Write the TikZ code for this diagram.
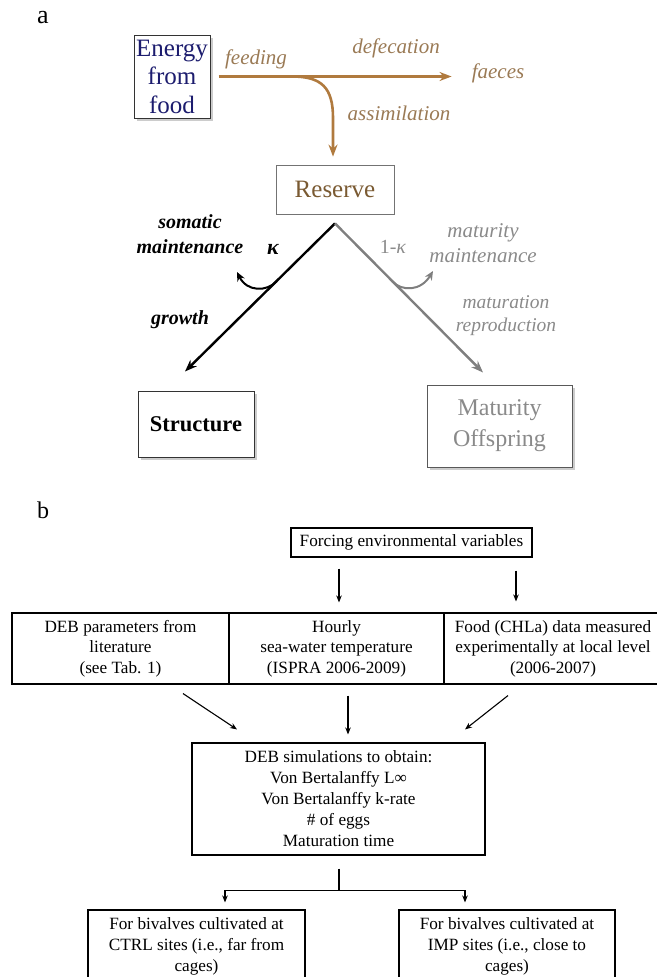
\documentclass[tikz,border=0pt]{standalone}
\usepackage{fontspec}
\setmainfont{Liberation Serif}
\usetikzlibrary{arrows.meta,shadows}
\definecolor{navy}{HTML}{1C1C6E}
\definecolor{brline}{HTML}{B07A3E}
\definecolor{brtext}{HTML}{9A7A55}
\definecolor{restext}{HTML}{7A5A32}
\definecolor{grline}{HTML}{7F7F7F}
\definecolor{grtext}{HTML}{8A8A8A}
\newcommand{\fs}[2]{\fontsize{#1}{#2}\selectfont}
\begin{document}
\begin{tikzpicture}[x=1pt,y=-1pt,
  abox/.style={draw=black!80, line width=1pt, inner sep=0pt, align=center, fill=white,
    drop shadow={shadow xshift=2.5pt, shadow yshift=-2.5pt, fill=black!40}},
  lbl/.style={font=\itshape\fs{21}{25}, text=brtext, inner sep=1pt, align=center},
  glbl/.style={font=\itshape\fs{21}{25}, text=grtext, inner sep=1pt, align=center},
  klbl/.style={font=\bfseries\itshape\fs{20}{25}, text=black, inner sep=1pt, align=center},
  brarrow/.style={draw=brline, line width=2.6pt, -{Stealth[length=12pt,width=9pt]}},
  blkarrow/.style={draw=black, line width=2.4pt, -{Stealth[length=12pt,width=9pt]}},
  gryarrow/.style={draw=grline, line width=2.4pt, -{Stealth[length=12pt,width=9pt]}},
  blkhook/.style={draw=black, line width=2pt, -{Stealth[length=9pt,width=8pt]}},
  gryhook/.style={draw=grline, line width=2pt, -{Stealth[length=9pt,width=8pt]}},
  bbox/.style={draw=black, line width=1.1pt, inner sep=0pt, align=center, font=\fs{17.2}{20.5}},
  barrow/.style={draw=black, line width=1.1pt, -{Stealth[length=7pt,width=5.5pt]}},
  bline/.style={draw=black, line width=1.1pt}
]
\useasboundingbox (0,0) rectangle (656,977);

% ---------- part a ----------
\node[font=\fs{26}{26}, inner sep=0pt] (la) at (43,18) {a};

\node[abox, text=navy, font=\fs{25}{28.5}, minimum width=76pt, minimum height=83pt] (energy) at (172,76.5) {Energy\\from\\food};

\node[lbl] (feeding) at (256,59) {feeding};
\node[lbl] (defec) at (396,48) {defecation};
\node[lbl] (faeces) at (498,73) {faeces};
\node[lbl] (assim) at (399,113) {assimilation};

\node[draw=black!55, line width=0.8pt, minimum width=118pt, minimum height=49pt, inner sep=0pt, text=restext, font=\fs{25}{25}] (reserve) at (335,189.5) {Reserve};

\coordinate (split) at (292,76.5);
\draw[brarrow, shorten <=8pt, shorten >=19pt] (energy.east) -- (energy.east -| faeces.west);
\draw[brarrow, shorten >=8pt] (split) .. controls (322,76.5) and (333,88) .. (333,118) -- (reserve.north -| 333,0);

\node[abox, font=\bfseries\fs{22.5}{22.5}, minimum width=116pt, minimum height=66pt] (structure) at (196,424) {Structure};
\node[abox, draw=black!65, text=grtext, font=\fs{24}{31}, minimum width=145pt, minimum height=82pt] (maturity) at (499.5,426) {Maturity\\Offspring};

\coordinate (vtx) at ([yshift=-9pt]reserve.south);
\draw[blkarrow] (vtx) -- ([shift={(-11,-19)}]structure.north);
\draw[gryarrow] (vtx) -- ([shift={(-16.5,-12)}]maturity.north);

\coordinate (kb) at (277,281);
\coordinate (mb) at (392,281);
\draw[blkhook] (kb) .. controls (267,292) and (247,292) .. (237,272);
\draw[gryhook] (mb) .. controls (402,292) and (421,291) .. (433,271);

\node[klbl] (somatic) at (190,234.5) {somatic\\maintenance};
\node[klbl] (growth) at (180,320) {growth};
\node[font=\bfseries\itshape\fs{22}{22}, inner sep=0pt] (kappa) at (273,249) {κ};
\node[font=\fs{20}{20}, text=grtext, inner sep=0pt] (omk) at (393,247) {1-\textit{κ}};
\node[glbl] (matmain) at (483,243.5) {maturity\\maintenance};
\node[glbl, font=\itshape\fs{19.5}{23}] (matrep) at (506,315.5) {maturation\\reproduction};

% ---------- part b ----------
\node[font=\fs{24}{24}, inner sep=0pt] (lb) at (43,510) {b};

\node[bbox, minimum width=241pt, minimum height=29pt] (forcing) at (411.5,542.5) {Forcing environmental variables};

\node[bbox, minimum width=217pt, minimum height=71pt] (c1) at (120.5,648.5) {DEB parameters from\\literature\\(see Tab. 1)};
\node[bbox, minimum width=215pt, minimum height=71pt] (c2) at (336.5,648.5) {Hourly\\sea-water temperature\\(ISPRA 2006-2009)};
\node[bbox, minimum width=218pt, minimum height=71pt] (c3) at (553,648.5) {Food (CHLa) data measured\\experimentally at local level\\(2006-2007)};

\draw[barrow] ([shift={(-72.5,11)}]forcing.south) -- ([shift={(2.5,-10)}]c2.north);
\draw[barrow] ([shift={(104.5,13)}]forcing.south) -- ([shift={(-37,-11)}]c3.north);

\node[bbox, font=\fs{17.2}{21}, minimum width=293pt, minimum height=112pt] (deb) at (338.5,799) {DEB simulations to obtain:\\Von Bertalanffy L∞\\Von Bertalanffy k-rate\\\# of eggs\\Maturation time};

\draw[barrow] ([shift={(62.5,9)}]c1.south) -- ([shift={(-101.5,-13)}]deb.north);
\draw[barrow] ([shift={(11.5,11)}]c2.south) -- ([shift={(9.5,-8)}]deb.north);
\draw[barrow] ([shift={(-45,11)}]c3.south) -- ([shift={(126.5,-13)}]deb.north);

\node[bbox, font=\fs{17.2}{21}, minimum width=217pt, minimum height=72pt] (ctrl) at (196.5,946) {For bivalves cultivated at\\CTRL sites (i.e., far from\\cages)};
\node[bbox, font=\fs{17.2}{21}, minimum width=216pt, minimum height=72pt] (imp) at (507,946) {For bivalves cultivated at\\IMP sites (i.e., close to\\cages)};

\coordinate (sp) at ([shift={(0.5,35)}]deb.south);
\draw[bline] ([shift={(0.5,13)}]deb.south) -- (sp);
\draw[barrow] (sp) -| ([shift={(28.5,-7)}]ctrl.north);
\draw[barrow] (sp) -| ([shift={(-42,-7)}]imp.north);
\end{tikzpicture}
\end{document}
